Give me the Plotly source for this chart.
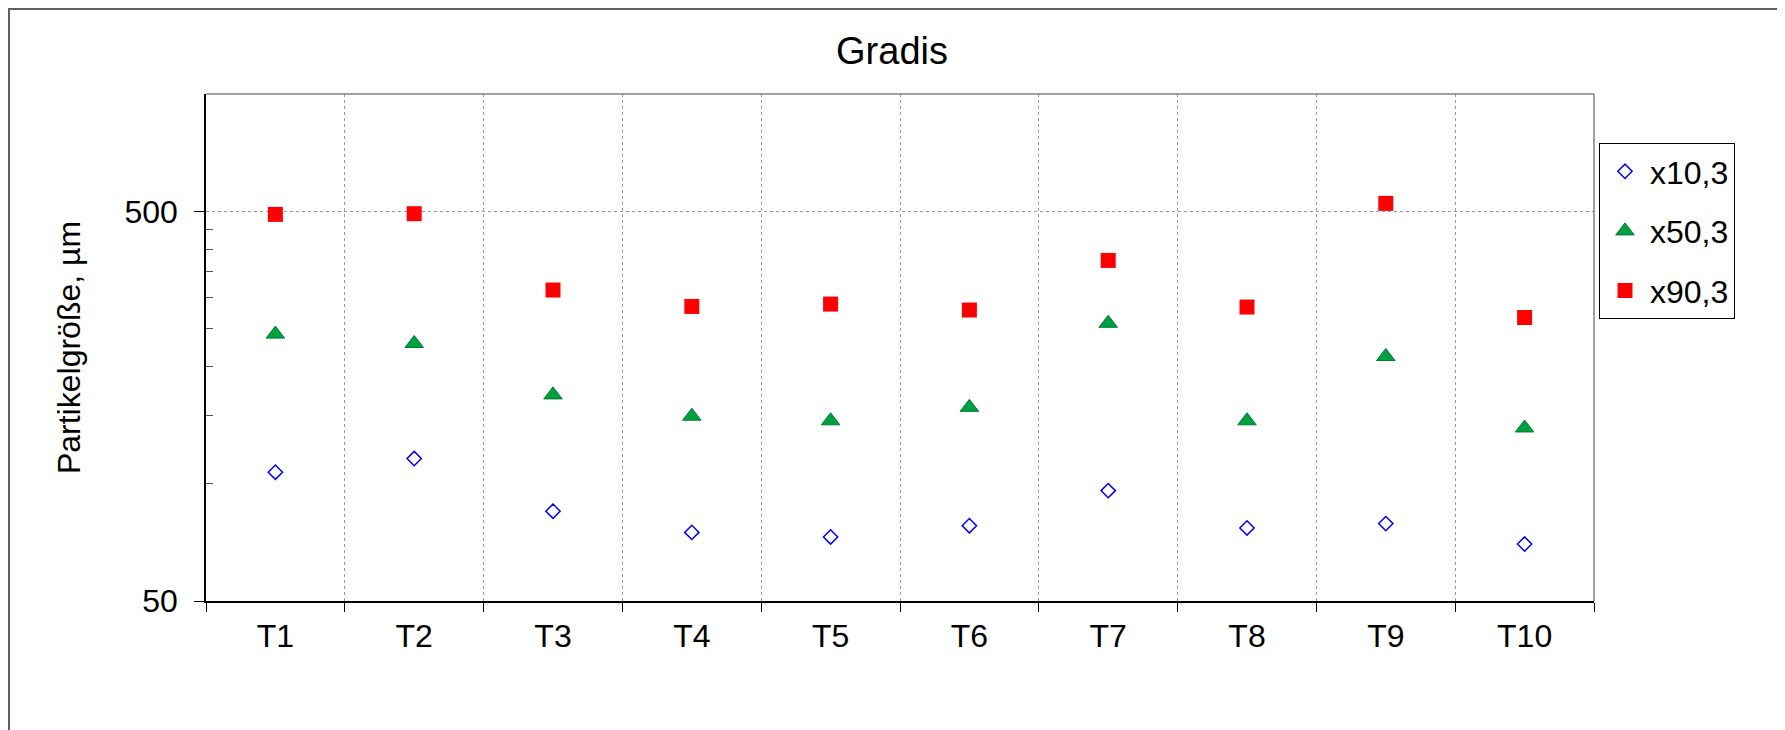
import plotly.graph_objects as go

categories = ["T1", "T2", "T3", "T4", "T5", "T6", "T7", "T8", "T9", "T10"]
x10_3 = [107, 116, 85, 75, 73, 78, 96, 77, 79, 70]
x50_3 = [242, 229, 169, 149, 145, 157, 258, 145, 212, 139]
x90_3 = [491, 493, 314, 285, 289, 279, 374, 284, 524, 267]

y_major = [50, 500]
y_minor = [100, 150, 200, 250, 300, 350, 400, 450]

# The page body adds an 8px margin, so figure coords = screen coords - 8
OFF = 8
W, H = 1785 - OFF, 730 - OFF
L, R, T, B = 206 - OFF, 1594 - OFF, 94 - OFF, 601 - OFF
pw, ph = R - L, B - T

def px(x):
    return (x - OFF - L) / pw

def py(y):
    return (B - (y - OFF)) / ph

fig = go.Figure()
fig.add_trace(go.Scatter(
    x=categories, y=x10_3, mode="markers", name="x10,3", legendgroup="a",
    marker=dict(symbol="diamond", size=11, color="white",
                line=dict(color="#0000FF", width=1.5))))
fig.add_trace(go.Scatter(
    x=categories, y=x50_3, mode="markers", name="x50,3", legendgroup="b",
    marker=dict(symbol="triangle-up", size=16, color="#00A040",
                line=dict(color="#007A30", width=1))))
fig.add_trace(go.Scatter(
    x=categories, y=x90_3, mode="markers", name="x90,3", legendgroup="c",
    marker=dict(symbol="square", size=15, color="#FF0000",
                line=dict(color="#FF0000", width=0))))

font_family = "Liberation Sans, Arial, sans-serif"
FS = 32

fig.update_layout(
    template="none",
    width=W, height=H,
    margin=dict(l=L, r=W - R, t=T, b=H - B, pad=0, autoexpand=False),
    paper_bgcolor="white", plot_bgcolor="white",
    font=dict(family=font_family, size=FS, color="black"),
    title=dict(text="Gradis", x=(892 - OFF) / W, xanchor="center",
               y=1 - (51 - OFF) / H, yanchor="middle",
               font=dict(size=38, family=font_family, color="black")),
    showlegend=True,
    legend=dict(x=px(1599), xanchor="left", y=py(143), yanchor="top",
                bordercolor="black", borderwidth=1, bgcolor="white",
                font=dict(size=FS, family=font_family),
                traceorder="grouped", tracegroupgap=15,
                itemwidth=40, entrywidth=135, entrywidthmode="pixels"),
    xaxis=dict(
        type="category", categoryorder="array", categoryarray=categories,
        range=[-0.5, len(categories) - 0.5], automargin=False,
        tickson="boundaries", ticks="outside", ticklen=9, tickcolor="black",
        showline=True, linecolor="black", linewidth=1.5,
        showgrid=True, gridcolor="#9a9a9a", griddash="dot", gridwidth=1,
        zeroline=False, tickfont=dict(size=FS), ticklabelstandoff=6),
    yaxis=dict(
        type="log", range=[1.69897, 3.0], automargin=False,
        tickvals=y_major, ticktext=[str(v) for v in y_major],
        ticks="outside", ticklen=10, tickcolor="black",
        showline=True, linecolor="black", linewidth=1.5,
        showgrid=True, gridcolor="#9a9a9a", griddash="dot", gridwidth=1,
        zeroline=False, tickfont=dict(size=FS), ticklabelstandoff=10,
        title=dict(text="Partikelgröße, µm", font=dict(size=FS), standoff=34),
        minor=dict(tickvals=y_minor, ticks="inside", ticklen=7,
                   tickcolor="#555555", showgrid=False)),
    shapes=[
        dict(type="line", xref="paper", yref="paper", x0=0, x1=1, y0=1, y1=1,
             line=dict(color="#808080", width=1.5)),
        dict(type="line", xref="paper", yref="paper", x0=1, x1=1, y0=0, y1=1,
             line=dict(color="#808080", width=1.5)),
        dict(type="rect", xref="paper", yref="paper",
             x0=px(9), x1=px(1778), y0=py(760), y1=py(9),
             line=dict(color="#606060", width=2), fillcolor="rgba(0,0,0,0)"),
    ],
)

fig.write_html("out.html")
